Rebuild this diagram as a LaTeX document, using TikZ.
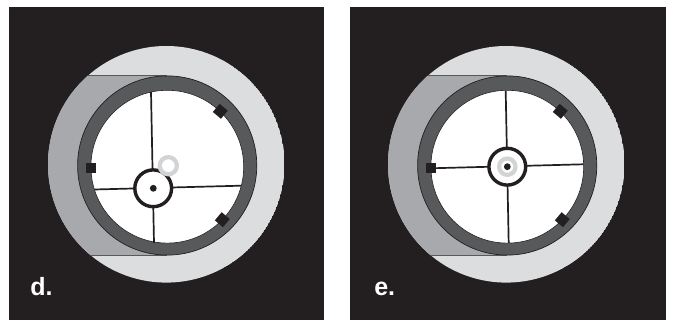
\documentclass[tikz,border=0pt]{standalone}
\usepackage{fontspec}
\setmainfont{Liberation Sans}
\definecolor{panelbg}{HTML}{231F20}
\definecolor{lightdisc}{HTML}{DCDDDE}
\definecolor{midgray}{HTML}{A7A9AC}
\definecolor{ringgray}{HTML}{58595B}
\definecolor{markblack}{HTML}{231F20}
\definecolor{ghostgray}{HTML}{D1D3D4}
\tikzset{
  panelbox/.style={fill=panelbg,draw=none},
  hair/.style={draw=markblack,line width=1.7pt},
  reticle/.style={draw=markblack,line width=3.4pt,fill=white},
  ghost/.style={draw=ghostgray,line width=4.2pt},
  markblock/.style={fill=markblack,draw=none},
  panellabel/.style={text=white,font=\fontsize{25}{25}\selectfont\bfseries,anchor=base west,inner sep=0pt,outer sep=0pt}
}
\newcommand{\scopebody}[2]{%
  \begin{scope}[shift={(#1,0)}]
    \begin{scope}
      \clip (166.3,164.3) circle (118.3pt);
      \fill[lightdisc] (166.3,164.3) circle (118.3pt);
      \fill[midgray] (40,75.3) rectangle (167.2,255.5);
      \draw[ringgray,line width=0.9pt] (40,75.3) -- (167.2,75.3) (40,255.5) -- (167.2,255.5);
    \end{scope}
    \fill[ringgray,draw=markblack,line width=0.7pt] (167.2,165.5) circle (89.6pt);
    \fill[white,draw=markblack,line width=0.6pt] (167.3,166.7) circle (76.4pt);
    \fill[markblock] (85.7,163) rectangle (95.8,173.4);
    \fill[markblock,rotate around={-40:(220.3,111.3)}] (215,106) rectangle (225.6,116.6);
    \fill[markblock,rotate around={-40:(222.3,219.7)}] (217,214.4) rectangle (227.6,225);
    #2
  \end{scope}}
\begin{document}
\begin{tikzpicture}[x=1pt,y=-1pt]
\useasboundingbox (0,0) rectangle (673,320);
\fill[white] (0,0) rectangle (673,320);
\fill[panelbox] (9,7) rectangle (324,320);
\fill[panelbox] (350,7) rectangle (666,320);
\scopebody{0}{%
  \draw[hair] (151,92) -- (154,243);
  \draw[hair] (94.5,189.5) -- (240.8,185.7);
  \draw[reticle] (153.2,188.3) circle (18.4pt);
  \fill[markblock] (153.3,188.3) circle (3.4pt);
  \draw[ghost] (168.3,165.7) circle (8.6pt);
}
\scopebody{340}{%
  \draw[hair] (165.7,91) -- (168.7,243);
  \draw[hair] (90.7,168.3) -- (243.3,164.3);
  \draw[reticle] (167.3,166.7) circle (18.4pt);
  \draw[ghost] (167.3,166.7) circle (8.2pt);
  \fill[markblock] (167.3,166.7) circle (3.4pt);
}
\node[panellabel] (labeld) at (30.3,296) {d.};
\node[panellabel] (labele) at (374.3,295.5) {e.};
\end{tikzpicture}
\end{document}
